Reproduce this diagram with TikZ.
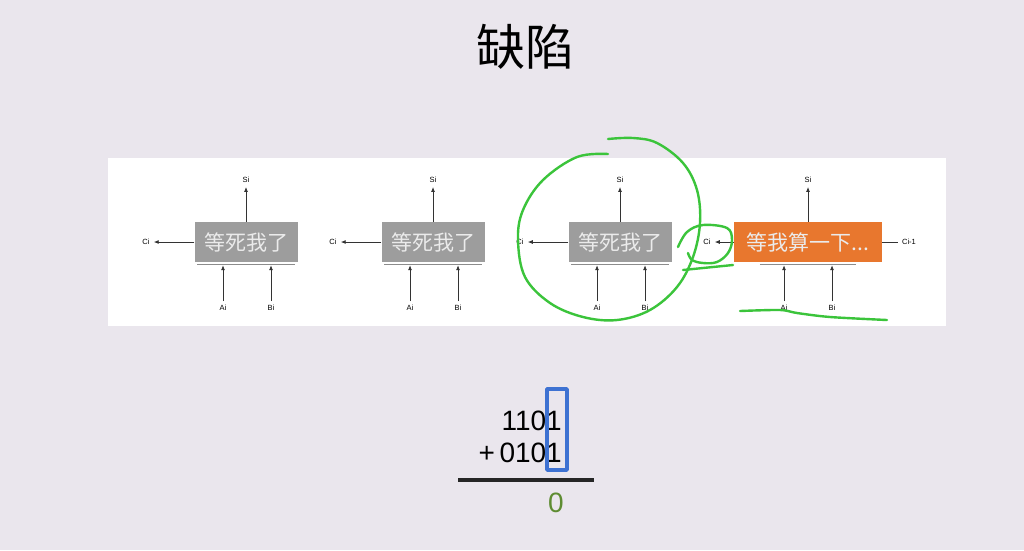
\documentclass[tikz,border=0pt]{standalone}
\usepackage{fontspec}
\setmainfont{Liberation Sans}
\newfontfamily\cjk{Noto Sans CJK SC}
\usepackage{xcolor}
\usetikzlibrary{arrows.meta}

\definecolor{paper}{HTML}{EAE6ED}
\definecolor{boxgray}{HTML}{9D9D9D}
\definecolor{boxorange}{HTML}{E8772E}
\definecolor{pen}{HTML}{3BC43B}
\definecolor{penblue}{HTML}{3E72D2}
\definecolor{sumgreen}{HTML}{5E8C32}

\begin{document}
\begin{tikzpicture}[x=1pt,y=-1pt,>={Latex[length=5pt,width=4pt]},
  adder/.style={fill=boxgray,text=white!92!black,font=\cjk\fontsize{21}{21}\selectfont,
    minimum width=103pt,minimum height=40pt,inner sep=0pt},
  lbl/.style={font=\fontsize{7.5}{7.5}\selectfont,inner sep=4pt},
  bar/.style={black!45,line width=1pt},
  wire/.style={->,black!80,line width=0.8pt},
  digits/.style={font=\fontsize{28}{28}\selectfont,inner sep=0pt},
  ink/.style={pen,line width=2.4pt,line cap=round,line join=round}]
      \fill[paper] (0,0) rectangle (1024,550);
      \fill[white] (108,158) rectangle (946,326);
      \node[font=\cjk\fontsize{49}{49}\selectfont] (title) at (525,47) {缺陷};
      % three waiting adders
      \foreach \i/\x in {1/246,2/433,3/620} {
        \node[adder] (box\i) at (\x,242) {等死我了};
        \node[lbl] (s\i) at (\x,180) {Si};
        \node[lbl] (c\i) at (\x-100,242) {Ci};
        \node[lbl] (a\i) at (\x-23,308) {Ai};
        \node[lbl] (b\i) at (\x+25,308) {Bi};
        \draw[bar] ([xshift=3pt,yshift=-2pt]box\i.south west) -- ([xshift=-3pt,yshift=-2pt]box\i.south east);
        \draw[wire] (box\i.north) -- (s\i);
        \draw[wire] (box\i.west) -- (c\i);
        \draw[wire,shorten >=3pt] (a\i) -- (a\i |- box\i.south);
        \draw[wire,shorten >=3pt] (b\i) -- (b\i |- box\i.south);
      }
      % the one still computing
      \node[adder,fill=boxorange,minimum width=148pt] (box4) at (808,242) {等我算一下...};
      \node[lbl] (s4) at (808,180) {Si};
      \node[lbl] (c4) at (707,242) {Ci};
      \node[lbl] (cin) at (909,242) {Ci-1};
      \node[lbl] (a4) at (784,308) {Ai};
      \node[lbl] (b4) at (832,308) {Bi};
      \draw[bar] ([xshift=26pt,yshift=-2pt]box4.south west) -- ([xshift=-26pt,yshift=-2pt]box4.south east);
      \draw[wire] (box4.north) -- (s4);
      \draw[wire] (box4.west) -- (c4);
      \draw[black!80,line width=0.8pt] (cin) -- (box4.east);
      \draw[wire,shorten >=3pt] (a4) -- (a4 |- box4.south);
      \draw[wire,shorten >=3pt] (b4) -- (b4 |- box4.south);
      % hand marks
      \draw[ink] plot[smooth,tension=0.6] coordinates {(608,154) (577,157) (543,180) (523,210)
        (518,240) (525,277) (550,303) (583,317) (617,320) (650,310) (677,287) (693,257)
        (700,223) (697,190) (683,163) (657,143) (633,138) (608,139)};
      \draw[ink] plot[smooth,tension=0.6] coordinates {(678,247) (687,232) (703,225) (727,228)
        (732,240) (728,253) (717,262) (703,263) (692,260) (688,253)};
      \draw[ink] (683,270) -- (733,265);
      \draw[ink] plot[smooth] coordinates {(740,311) (780,310) (797,313) (830,317) (887,320)};
      % sum example
      \node[digits,anchor=base east] (n1) at (562,430) {1101};
      \node[digits,anchor=base east] (n2) at (562,462) {+\,0101};
      \draw[black!85,line width=4pt] (458,480) -- (594,480);
      \node[digits,text=sumgreen,anchor=base] (res) at (556,512) {0};
      \draw[penblue,line width=3.5pt,line join=round] (547,389) rectangle (567,470);
\end{tikzpicture}
\end{document}
